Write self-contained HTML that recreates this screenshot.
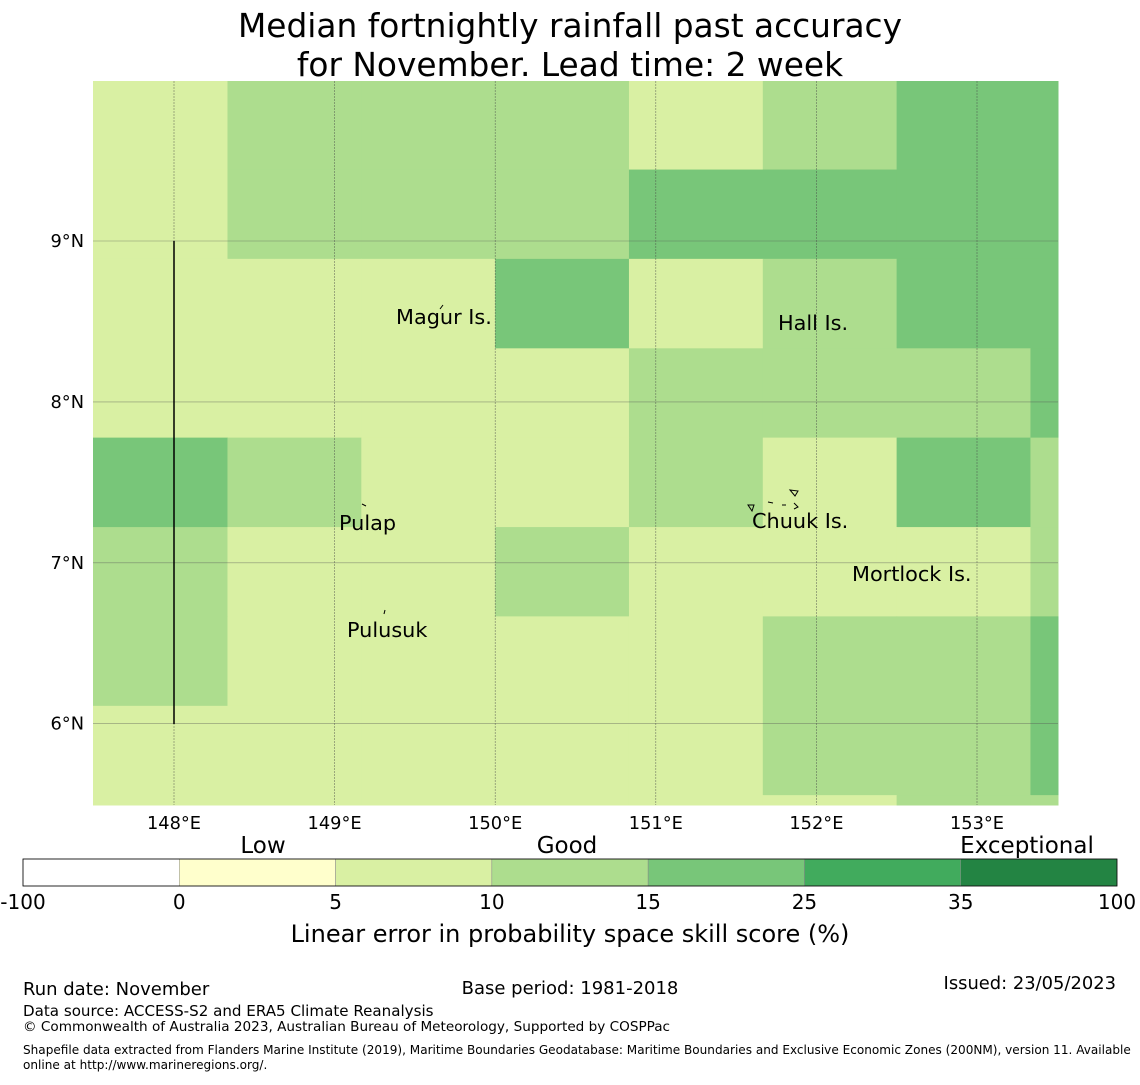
<!DOCTYPE html>
<html><head><meta charset="utf-8"><style>
body{margin:0;background:#fff;font-family:"Liberation Sans","DejaVu Sans",sans-serif;}
svg text{font-family:"DejaVu Sans","Liberation Sans",sans-serif;}
</style></head><body>
<svg id="chart" width="1140" height="1080" viewBox="0 0 1140 1080" xmlns="http://www.w3.org/2000/svg">
<text x="570" y="37" font-size="32.8" text-anchor="middle">Median fortnightly rainfall past accuracy</text>
<text x="570" y="76" font-size="32.8" text-anchor="middle">for November. Lead time: 2 week</text>
<g id="cells"></g>
<g id="grid"></g>
<line x1="174" y1="241" x2="174" y2="724" stroke="#000" stroke-width="1.5"/>
<g font-size="20.8">
<text x="396" y="324">Magur Is.</text>
<text x="778" y="330">Hall Is.</text>
<text x="339" y="530">Pulap</text>
<text x="752" y="528">Chuuk Is.</text>
<text x="852" y="581">Mortlock Is.</text>
<text x="347" y="637">Pulusuk</text>
</g>
<g fill="none" stroke="#000" stroke-width="1">
<path d="M440 309 l3 -4"/><path d="M362 504 l4 2"/><path d="M384 614 l1 -4"/>
<path d="M748 505 l6 0 l-2 6 z M768 502 l5 1 M790 490 l8 1 l-3 5 z M782 505 l4 0 M794 503 l4 4 l-4 2"/>
</g>
<g id="axes" font-size="17.8"></g>
<g id="cbar"></g>
<text x="263" y="853" font-size="23" text-anchor="middle">Low</text>
<text x="567" y="853" font-size="23" text-anchor="middle">Good</text>
<text x="1027" y="853" font-size="23" text-anchor="middle">Exceptional</text>
<text x="570" y="942" font-size="24" text-anchor="middle">Linear error in probability space skill score (%)</text>
<text x="23" y="995" font-size="18">Run date: November</text>
<text x="570" y="994" font-size="18" text-anchor="middle">Base period: 1981-2018</text>
<text x="1116" y="989" font-size="17.9" text-anchor="end">Issued: 23/05/2023</text>
<text x="23" y="1016" font-size="15.1">Data source: ACCESS-S2 and ERA5 Climate Reanalysis</text>
<text x="23" y="1031" font-size="13.6">© Commonwealth of Australia 2023, Australian Bureau of Meteorology, Supported by COSPPac</text>
<text x="23" y="1054" font-size="12.07">Shapefile data extracted from Flanders Marine Institute (2019), Maritime Boundaries Geodatabase: Maritime Boundaries and Exclusive Economic Zones (200NM), version 11. Available</text>
<text x="23" y="1069" font-size="12.07">online at http://www.marineregions.org/.</text>
</svg>
<script>
const latStarts=[10.0,9.444,8.889,8.333,7.778,7.222,6.667,6.111,5.556,5.5];
const skill=[
[7,12,12,12,7,12,20,20],
[7,12,12,12,20,20,20,20],
[7,7,7,20,7,12,20,20],
[7,7,7,7,12,12,12,20],
[20,12,7,7,12,7,20,12],
[12,7,7,12,7,7,7,12],
[12,7,7,7,7,12,12,20],
[7,7,7,7,7,12,12,20],
[7,7,7,7,7,7,12,12]];
const cbTicks=["-100","0","5","10","15","25","35","100"];
const cbBounds=[-100,0,5,10,15,25,35,100];
const cbColors=["#ffffff","#ffffcc","#d9f0a3","#addd8e","#78c679","#41ab5d","#238443"];
const lonTicks=[148,149,150,151,152,153];
const latTicks=[9,8,7,6];
const NS="http://www.w3.org/2000/svg";
const X0=93,X1=1058,Y0=81,Y1=805;
function xs(lon){return 174+(lon-148)*160.6;}
function ys(lat){return 241+(9-lat)*160.9;}
function col(v){for(let i=cbBounds.length-2;i>=0;i--){if(v>=cbBounds[i])return cbColors[i];}return cbColors[0];}
function mk(t,a,p){const e=document.createElementNS(NS,t);for(const k in a)e.setAttribute(k,a[k]);p.appendChild(e);return e;}
const cells=document.getElementById('cells');
for(let r=0;r<skill.length;r++){for(let c=0;c<skill[r].length;c++){
 let xa=c===0?X0:xs(148.333-0.8333+c*0.8333), xb=c===7?X1:xs(148.333+c*0.8333);
 let ya=r===0?Y0:ys(latStarts[r]), yb=r===8?Y1:ys(latStarts[r+1]);
 xa=Math.max(X0,xa);xb=Math.min(X1,xb);
 const el=mk('rect',{x:xa,y:ya,width:xb-xa+0.5,height:yb-ya+0.5,fill:col(skill[r][c])},cells);
 
 
}}
const grid=document.getElementById('grid'),axes=document.getElementById('axes');
lonTicks.forEach(l=>{const x=xs(l);
 const g=mk('line',{x1:x,y1:Y0,x2:x,y2:Y1,stroke:'#444','stroke-width':0.6,'stroke-opacity':0.7,'stroke-dasharray':'2,1'},grid);
 
 const t=mk('text',{x:x,y:829,'text-anchor':'middle'},axes);t.textContent=l+'°E';
 });
latTicks.forEach(l=>{const y=ys(l);
 const g=mk('line',{x1:X0,y1:y,x2:X1,y2:y,stroke:'#555','stroke-width':0.6,'stroke-opacity':0.6},grid);
 
 const t=mk('text',{x:84,y:y+6,'text-anchor':'end'},axes);t.textContent=l+'°N';
 });
const cb=document.getElementById('cbar');const cw=(1117-23)/cbColors.length;
cbColors.forEach((c,i)=>{const r=mk('rect',{x:23+i*cw,y:859,width:cw,height:27,fill:c,stroke:'#888','stroke-width':0.5},cb);
 });
mk('rect',{x:23,y:859,width:1094,height:27,fill:'none',stroke:'#000','stroke-width':0.8},cb);
cbTicks.forEach((t,i)=>{const e=mk('text',{x:23+i*cw,y:909,'font-size':20,'text-anchor':'middle'},cb);e.textContent=t;
 });
</script>
</body></html>
